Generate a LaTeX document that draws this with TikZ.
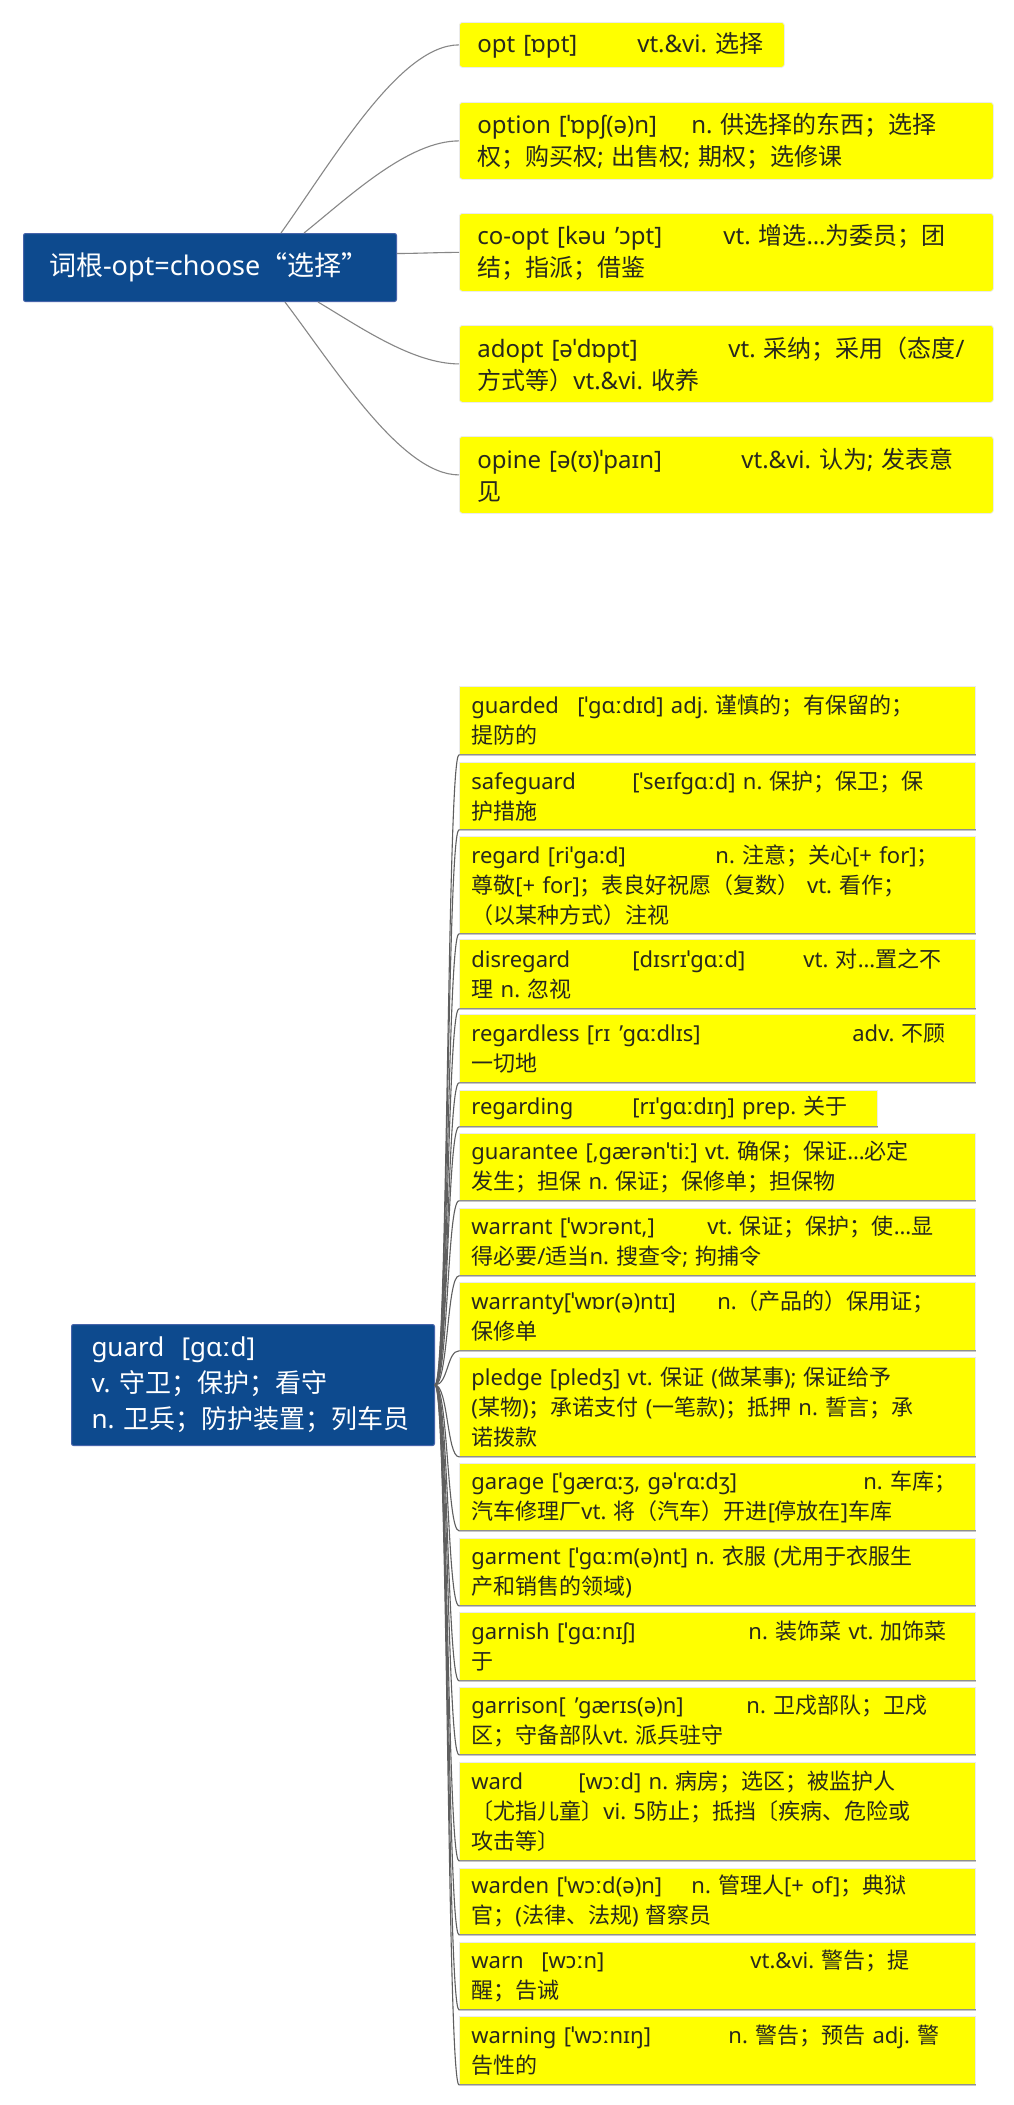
\documentclass[tikz,border=0pt]{standalone}
\usepackage{fontspec}
\usetikzlibrary{calc}
\setmainfont{Noto Sans}
\newfontfamily\cjkfont{Noto Sans CJK SC}
\XeTeXinterchartokenstate=1
\newXeTeXintercharclass\CJKclass
\makeatletter
\def\setcjkrange#1#2{\count@=#1\relax\loop\XeTeXcharclass\count@=\CJKclass\relax\ifnum\count@<#2\relax\advance\count@ by 1\relax\repeat}
\makeatother
\setcjkrange{"4E00}{"9FFF}
\setcjkrange{"3000}{"303F}
\setcjkrange{"FF00}{"FFEF}
\XeTeXcharclass"201C=\CJKclass
\XeTeXcharclass"201D=\CJKclass
\XeTeXinterchartoks 0 \CJKclass = {\cjkfont}
\XeTeXinterchartoks 4095 \CJKclass = {\cjkfont}
\XeTeXinterchartoks \CJKclass 0 = {\rmfamily}
\XeTeXinterchartoks \CJKclass 4095 = {\rmfamily}
\frenchspacing
\newcommand\gap[2]{\makebox[#1pt][l]{#2}}
\newcommand\qgap{\hspace{9pt}}
\definecolor{rootblue}{RGB}{13,74,142}
\definecolor{rootedge}{RGB}{70,100,170}
\definecolor{yel}{RGB}{255,255,0}
\definecolor{txt}{RGB}{40,40,30}
\definecolor{lnk}{RGB}{135,135,135}
\definecolor{blnk}{RGB}{95,95,95}
\tikzset{
  ybox/.style={rectangle, fill=yel, draw=black!8, line width=0.8pt, anchor=north west, align=left, inner ysep=0pt, text=txt},
  topbox/.style={ybox, rounded corners=3pt, inner xsep=18pt, text width=498pt, font=\fontsize{24}{32}\selectfont},
  botbox/.style={ybox, inner xsep=12pt, text width=492pt, font=\fontsize{22}{30}\selectfont},
  rootbox/.style={rectangle, fill=rootblue, draw=rootedge, line width=1pt, rounded corners=2pt, anchor=north west, align=left, inner ysep=0pt, text=white},
  tline/.style={draw=lnk, line width=1.1pt},
  bline/.style={draw=blnk, line width=1.1pt}
}
\begin{document}
\begin{tikzpicture}[x=1pt,y=-1pt]
\fill[white] (0,0) rectangle (1014,2105);
\useasboundingbox (0,0) rectangle (1014,2105);

% ---------- top map ----------
\node[rootbox, inner xsep=25.5pt, text width=322pt, minimum height=68pt, font=\fontsize{27}{34}\selectfont] (r1) at (23,233) {\mbox{词根-opt=choose“选择”}};

\node[topbox, text width=289pt, minimum height=45pt] (o1) at (459,22) {\mbox{\gap{160}{opt [ɒpt]}vt.\&vi. 选择}};
\node[topbox, minimum height=77pt] (o2) at (459,102) {\mbox{\gap{214}{option [ˈɒpʃ(ə)n]}n. 供选择的东西；选择}\\\mbox{权；购买权; 出售权; 期权；选修课}};
\node[topbox, minimum height=78pt] (o3) at (459,213) {\mbox{\gap{246}{co-opt [kəu\qgap ’ɔpt]}vt. 增选…为委员；团}\\\mbox{结；指派；借鉴}};
\node[topbox, minimum height=77pt] (o4) at (459,325) {\mbox{\gap{251}{adopt [əˈdɒpt]}vt. 采纳；采用（态度/}\\\mbox{方式等）vt.\&vi. 收养}};
\node[topbox, minimum height=77pt] (o5) at (459,436) {\mbox{\gap{264}{opine [ə(ʊ)ˈpaɪn]}vt.\&vi. 认为; 发表意}\\\mbox{见}};

\draw[tline] ($(r1.north west)+(258,0)$) .. controls +(54,-76) and +(-59,0) .. (o1.west);
\draw[tline] ($(r1.north west)+(281,0)$) .. controls +(46,-37) and +(-51,0) .. (o2.west);
\draw[tline] ($(r1.east)+(0,-14)$) .. controls +(19,0) and +(-21,0) .. (o3.west);
\draw[tline] ($(r1.south west)+(295,0)$) .. controls +(42,25) and +(-46,0) .. (o4.west);
\draw[tline] ($(r1.south west)+(262,0)$) .. controls +(52,69) and +(-57,0) .. (o5.west);

% ---------- bottom map ----------
\node[rootbox, inner xsep=20pt, text width=323pt, minimum height=121pt, font=\fontsize{26}{36}\selectfont] (r2) at (71,1324) {guard\ \ [gɑːd]\\v. 守卫；保护；看守\\n. 卫兵；防护装置；列车员};

\node[botbox, minimum height=68pt] (b1) at (459,686) {\mbox{\gap{106}{guarded}[ˈgɑːdɪd] adj. 谨慎的；有保留的；}\\\mbox{提防的}};
\node[botbox, minimum height=67pt] (b2) at (459,762) {\mbox{\gap{161}{safeguard}[ˈseɪfgɑːd] n. 保护；保卫；保}\\\mbox{护措施}};
\node[botbox, minimum height=97pt] (b3) at (459,836) {\mbox{\gap{244}{regard [riˈga:d]}n. 注意；关心[+ for]；}\\\mbox{尊敬[+ for]；表良好祝愿（复数） vt. 看作；}\\\mbox{（以某种方式）注视}};
\node[botbox, minimum height=69pt] (b4) at (459,939) {\mbox{\gap{161}{disregard}\gap{171}{[dɪsrɪˈgɑːd]}vt. 对…置之不}\\\mbox{理 n. 忽视}};
\node[botbox, minimum height=68pt] (b5) at (459,1014) {\mbox{\gap{381}{regardless [rɪ\qgap ’gɑːdlɪs]}adv. 不顾}\\\mbox{一切地}};
\node[botbox, text width=394pt, minimum height=36pt] (b6) at (459,1090) {\mbox{\gap{161}{regarding}[rɪˈgɑːdɪŋ] prep. 关于}};
\node[botbox, minimum height=67pt] (b7) at (459,1133) {\mbox{guarantee [,gærənˈtiː] vt. 确保；保证…必定}\\\mbox{发生；担保 n. 保证；保修单；担保物}};
\node[botbox, minimum height=67pt] (b8) at (459,1208) {\mbox{\gap{236}{warrant [ˈwɔrənt,]}vt. 保证；保护；使…显}\\\mbox{得必要/适当n. 搜查令; 拘捕令}};
\node[botbox, minimum height=68pt] (b9) at (459,1282) {\mbox{\gap{246}{warranty[ˈwɒr(ə)ntɪ]}n.（产品的）保用证；}\\\mbox{保修单}};
\node[botbox, minimum height=99pt] (b10) at (459,1357) {\mbox{pledge [pledʒ] vt. 保证 (做某事); 保证给予}\\\mbox{(某物)；承诺支付 (一笔款)；抵押 n. 誓言；承}\\\mbox{诺拨款}};
\node[botbox, minimum height=67pt] (b11) at (459,1463) {\mbox{\gap{392}{garage [ˈgærɑ:ʒ, gəˈrɑ:dʒ]}n. 车库；}\\\mbox{汽车修理厂vt. 将（汽车）开进[停放在]车库}};
\node[botbox, minimum height=67pt] (b12) at (459,1538) {\mbox{garment [ˈgɑːm(ə)nt] n. 衣服 (尤用于衣服生}\\\mbox{产和销售的领域)}};
\node[botbox, minimum height=68pt] (b13) at (459,1612) {\mbox{\gap{277}{garnish [ˈgɑːnɪʃ]}n. 装饰菜 vt. 加饰菜}\\\mbox{于}};
\node[botbox, minimum height=67pt] (b14) at (459,1687) {\mbox{\gap{275}{garrison[\qgap ’gærɪs(ə)n]}n. 卫戍部队；卫戍}\\\mbox{区；守备部队vt. 派兵驻守}};
\node[botbox, minimum height=98pt] (b15) at (459,1762) {\mbox{\gap{107}{ward}[wɔːd] n. 病房；选区；被监护人}\\\mbox{〔尤指儿童〕vi. 5防止；抵挡〔疾病、危险或}\\\mbox{攻击等〕}};
\node[botbox, minimum height=66pt] (b16) at (459,1868) {\mbox{\gap{220}{warden [ˈwɔːd(ə)n]}n. 管理人[+ of]；典狱}\\\mbox{官；(法律、法规) 督察员}};
\node[botbox, minimum height=67pt] (b17) at (459,1942) {\mbox{\gap{70}{warn}\gap{209}{[wɔːn]}vt.\&vi. 警告；提}\\\mbox{醒；告诫}};
\node[botbox, minimum height=68pt] (b18) at (459,2016) {\mbox{\gap{257}{warning [ˈwɔːnɪŋ]}n. 警告；预告 adj. 警}\\\mbox{告性的}};

\foreach \b in {b1,b2,b3,b4,b5,b6,b7,b8,b9,b10,b11,b12,b13,b14,b15,b16,b17,b18}{
  \draw[bline] (r2.east) .. controls +(13,0) and +(-12,0) .. (\b.south west) -- (\b.south east);
}
\end{tikzpicture}
\end{document}
